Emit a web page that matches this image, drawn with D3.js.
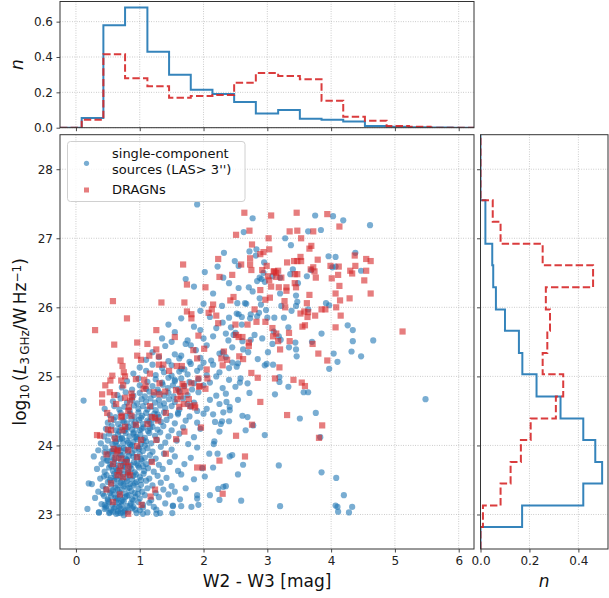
<!DOCTYPE html>
<html>
<head>
<meta charset="utf-8">
<script src="https://cdn.jsdelivr.net/npm/d3@7"></script>
<style>
  body { margin: 0; background: #fff; }
  svg { display: block; font-family: "DejaVu Sans", sans-serif; }
</style>
</head>
<body>
<div id="chart"></div>
<script>
"use strict";

// ticks
var colourTicks = [0, 1, 2, 3, 4, 5, 6];
var lumTicks = [23, 24, 25, 26, 27, 28];
var topHistTicks = [0, 0.2, 0.4, 0.6];
var sideHistTicks = [0, 0.2, 0.4];

// histogram bin edges (W2-W3 and log L)
var colourEdges = [-0.25, 0.09, 0.43, 0.77, 1.12, 1.46, 1.80, 2.14, 2.48, 2.82, 3.17, 3.51, 3.85, 4.19, 4.53, 4.87, 5.22, 5.56, 5.90, 6.24];
var lumEdges = [22.5, 22.82, 23.13, 23.45, 23.76, 24.08, 24.39, 24.71, 25.03, 25.34, 25.66, 25.97, 26.29, 26.61, 26.92, 27.24, 27.55, 27.87, 28.18, 28.5];

// normalised counts per bin
var topSingle = [0, 0.055, 0.58, 0.68, 0.43, 0.30, 0.215, 0.19, 0.145, 0.08, 0.10, 0.05, 0.045, 0.035, 0.01, 0.005, 0.002, 0.001, 0];
var topDragn = [0, 0.045, 0.415, 0.28, 0.235, 0.17, 0.18, 0.185, 0.255, 0.31, 0.293, 0.274, 0.153, 0.062, 0.04, 0.01, 0.005, 0, 0];
var sideSingle = [0, 0.17, 0.42, 0.497, 0.469, 0.42, 0.327, 0.229, 0.171, 0.157, 0.10, 0.063, 0.052, 0.048, 0.02, 0.02, 0, 0, 0];
var sideDragn = [0, 0.01, 0.082, 0.123, 0.165, 0.205, 0.308, 0.338, 0.254, 0.273, 0.284, 0.267, 0.46, 0.254, 0.082, 0.05, 0, 0, 0];

// [W2-W3, log10 L] -- single-component sources (LAS > 3")
var singleSources = [
  [1.90,27.49],[2.77,27.29],[3.75,27.33],[4.03,27.32],[4.19,27.26],[4.61,27.19],[3.84,27.12],[3.64,27.10],[2.63,27.09],
  [3.28,27.00],[3.37,26.90],[2.72,26.81],[2.83,26.84],[2.82,26.75],[2.32,26.79],[2.49,26.67],[2.22,26.59],[2.02,26.51],
  [2.31,26.43],[1.72,26.41],[1.85,26.30],[2.55,26.28],[2.71,26.29],[2.77,26.23],[2.84,26.38],[2.88,26.43],[2.91,26.41],
  [2.94,26.50],[2.96,26.37],[3.08,26.45],[3.20,26.43],[3.36,26.48],[3.48,26.35],[3.45,26.17],[3.62,26.45],[3.69,26.54],
  [3.96,26.74],[4.07,26.73],[4.07,26.59],[4.02,26.58],[4.38,26.79],[4.47,26.53],[2.88,26.13],[2.90,26.04],[2.65,26.06],
  [2.67,26.05],[2.53,26.06],[2.29,26.02],[2.52,25.91],[2.55,25.90],[2.60,25.86],[2.73,25.84],[2.74,25.90],[2.84,25.87],
  [2.98,25.96],[2.87,25.92],[3.11,25.85],[3.22,26.02],[3.38,25.95],[3.45,26.02],[3.47,26.08],[3.64,25.97],[3.92,26.06],
  [3.97,26.03],[4.26,25.74],[4.34,25.67],[4.34,25.51],[4.32,25.36],[4.47,25.29],[4.66,25.52],[4.04,25.33],[4.10,25.21],
  [3.97,25.11],[3.85,25.62],[3.70,25.50],[3.45,25.39],[3.46,25.29],[3.44,25.49],[3.34,25.42],[3.33,25.71],[3.26,25.85],
  [3.10,25.65],[3.18,25.58],[3.21,25.53],[3.08,25.47],[3.01,25.35],[2.96,25.16],[2.99,25.18],[3.09,25.17],[3.19,24.99],
  [3.19,24.92],[3.33,24.85],[3.57,24.77],[3.64,24.77],[3.12,24.74],[2.92,25.55],[2.74,25.53],[2.61,25.51],[2.50,25.63],
  [2.43,25.71],[2.39,25.52],[2.47,25.60],[2.62,25.39],[2.54,25.19],[2.52,25.14],[2.58,24.97],[2.57,24.91],[2.69,24.90],
  [2.72,24.76],[2.54,24.66],[2.36,24.63],[2.41,24.56],[2.31,24.48],[2.41,24.51],[2.61,24.43],[2.69,24.41],[2.66,24.22],
  [2.78,24.29],[2.96,24.15],[3.51,24.39],[3.76,24.47],[3.83,24.12],[3.85,23.61],[4.08,23.53],[4.20,23.28],[4.07,23.13],
  [4.10,23.11],[4.11,23.04],[4.33,23.11],[4.28,23.03],[3.18,23.71],[3.20,23.12],[2.59,23.20],[2.54,23.58],[2.62,23.72],
  [2.45,23.86],[2.41,23.84],[2.15,23.68],[2.09,23.88],[2.16,24.02],[2.22,23.88],[2.17,24.06],[2.25,24.20],[2.27,24.31],
  [2.29,24.35],[2.18,24.34],[2.02,23.55],[2.35,23.41],[2.31,23.40],[2.23,23.37],[2.25,23.21],[2.10,23.28],[1.90,23.28],
  [1.90,23.23],[1.92,23.14],[1.81,23.11],[1.65,23.12],[1.52,23.12],[1.51,23.02],[1.26,23.01],[0.12,24.65],[0.20,23.45],
  [0.18,23.08],[0.36,23.03],[0.45,23.14],[0.53,23.03],[0.66,23.02],[0.75,22.99],[1.05,23.01],[5.48,24.67],
  // dense region
  [0.36,23.03],[0.45,23.08],[0.52,23.02],[0.55,23.06],[0.60,23.09],[0.63,23.01],[0.66,23.05],[0.70,23.08],[0.74,23.03],
  [0.78,23.07],[0.82,23.04],[0.88,23.09],[0.95,23.02],[1.00,23.06],[1.05,23.10],[1.12,23.03],[1.26,23.07],[1.32,23.02],
  [0.40,23.15],[0.48,23.12],[0.52,23.18],[0.57,23.14],[0.62,23.11],[0.67,23.17],[0.71,23.13],[0.75,23.19],[0.80,23.12],
  [0.86,23.16],[0.90,23.11],[0.98,23.18],[1.05,23.14],[1.15,23.17],[1.22,23.11],[1.40,23.16],[1.52,23.13],
  [0.30,23.24],[0.44,23.27],[0.50,23.22],[0.55,23.26],[0.60,23.29],[0.65,23.23],[0.69,23.27],[0.73,23.21],[0.77,23.25],
  [0.83,23.28],[0.88,23.22],[0.93,23.26],[1.00,23.23],[1.08,23.28],[1.18,23.21],[1.30,23.25],[1.45,23.29],[1.63,23.22],
  [0.35,23.33],[0.47,23.37],[0.53,23.31],[0.58,23.35],[0.62,23.39],[0.68,23.32],[0.72,23.36],[0.78,23.30],[0.81,23.38],
  [0.87,23.34],[0.92,23.31],[0.98,23.37],[1.04,23.33],[1.12,23.38],[1.25,23.31],[1.37,23.36],[1.55,23.33],[1.72,23.38],
  [0.25,23.44],[0.42,23.41],[0.50,23.47],[0.56,23.43],[0.60,23.49],[0.66,23.42],[0.70,23.46],[0.75,23.41],[0.80,23.48],
  [0.85,23.44],[0.90,23.42],[0.95,23.47],[1.02,23.43],[1.10,23.49],[1.20,23.42],[1.33,23.46],[1.50,23.41],
  [0.38,23.52],[0.48,23.57],[0.55,23.53],[0.60,23.59],[0.64,23.51],[0.70,23.55],[0.74,23.58],[0.79,23.52],[0.84,23.56],
  [0.88,23.51],[0.94,23.58],[1.00,23.54],[1.06,23.59],[1.15,23.52],[1.28,23.56],[1.42,23.53],[1.65,23.58],[1.85,23.51],
  [0.33,23.66],[0.45,23.62],[0.52,23.68],[0.58,23.63],[0.63,23.67],[0.68,23.61],[0.73,23.65],[0.77,23.69],[0.82,23.62],
  [0.87,23.66],[0.92,23.61],[0.99,23.68],[1.07,23.63],[1.13,23.67],[1.22,23.62],[1.36,23.66],[1.60,23.63],[1.98,23.67],
  [0.40,23.73],[0.48,23.78],[0.54,23.72],[0.60,23.76],[0.66,23.71],[0.71,23.77],[0.76,23.74],[0.80,23.79],[0.86,23.72],
  [0.91,23.76],[0.97,23.71],[1.03,23.78],[1.10,23.73],[1.18,23.77],[1.30,23.72],[1.47,23.76],[1.70,23.73],
  [0.28,23.84],[0.43,23.81],[0.50,23.87],[0.56,23.83],[0.62,23.88],[0.67,23.82],[0.73,23.86],[0.78,23.81],[0.83,23.85],
  [0.88,23.89],[0.95,23.83],[1.00,23.87],[1.08,23.82],[1.16,23.86],[1.25,23.81],[1.38,23.88],[1.55,23.84],[1.80,23.82],
  [0.35,23.93],[0.46,23.97],[0.53,23.91],[0.60,23.95],[0.65,23.99],[0.70,23.92],[0.75,23.96],[0.81,23.91],[0.86,23.98],
  [0.92,23.93],[0.98,23.97],[1.05,23.92],[1.12,23.96],[1.20,23.91],[1.33,23.98],[1.50,23.94],[1.90,23.97],
  [0.39,24.03],[0.50,24.07],[0.57,24.02],[0.63,24.06],[0.69,24.09],[0.74,24.03],[0.80,24.07],[0.85,24.01],[0.90,24.05],
  [0.96,24.09],[1.02,24.02],[1.10,24.06],[1.18,24.03],[1.27,24.08],[1.40,24.04],[1.58,24.07],[1.76,24.02],
  [0.44,24.13],[0.52,24.17],[0.60,24.12],[0.66,24.16],[0.72,24.11],[0.78,24.18],[0.84,24.13],[0.90,24.17],[0.95,24.12],
  [1.01,24.16],[1.08,24.11],[1.15,24.18],[1.24,24.14],[1.32,24.19],[1.45,24.13],[1.62,24.17],[1.85,24.12],
  [0.47,24.24],[0.56,24.28],[0.63,24.22],[0.70,24.26],[0.76,24.21],[0.82,24.27],[0.88,24.23],[0.94,24.28],[1.00,24.22],
  [1.06,24.26],[1.13,24.21],[1.20,24.27],[1.28,24.23],[1.37,24.28],[1.50,24.22],[1.68,24.26],[1.95,24.24],
  [0.50,24.33],[0.59,24.37],[0.66,24.31],[0.73,24.36],[0.80,24.32],[0.87,24.38],[0.93,24.33],[0.99,24.37],[1.05,24.31],
  [1.12,24.36],[1.18,24.32],[1.25,24.38],[1.33,24.34],[1.42,24.37],[1.55,24.32],[1.72,24.36],[1.90,24.33],
  [0.53,24.44],[0.62,24.41],[0.70,24.47],[0.78,24.42],[0.85,24.46],[0.92,24.41],[0.98,24.48],[1.04,24.43],[1.10,24.47],
  [1.17,24.42],[1.23,24.46],[1.30,24.41],[1.38,24.48],[1.48,24.43],[1.60,24.47],[1.78,24.42],[2.00,24.46],
  [0.45,24.53],[0.60,24.57],[0.68,24.52],[0.76,24.56],[0.84,24.51],[0.91,24.58],[0.98,24.53],[1.05,24.57],[1.12,24.52],
  [1.18,24.56],[1.25,24.51],[1.32,24.58],[1.40,24.54],[1.50,24.57],[1.62,24.52],[1.80,24.56],[2.05,24.53],
  [0.58,24.64],[0.70,24.68],[0.80,24.62],[0.88,24.66],[0.96,24.61],[1.03,24.67],[1.10,24.63],[1.17,24.68],[1.24,24.62],
  [1.30,24.66],[1.38,24.61],[1.46,24.67],[1.55,24.63],[1.68,24.68],[1.85,24.62],[2.10,24.66],
  [0.65,24.73],[0.78,24.77],[0.90,24.72],[1.00,24.76],[1.08,24.71],[1.15,24.78],[1.22,24.73],[1.30,24.77],[1.38,24.72],
  [1.45,24.76],[1.53,24.71],[1.62,24.78],[1.75,24.73],[1.92,24.77],[2.20,24.72],
  [0.72,24.84],[0.88,24.81],[1.00,24.87],[1.10,24.82],[1.20,24.86],[1.28,24.81],[1.36,24.88],[1.44,24.83],[1.52,24.87],
  [1.60,24.82],[1.70,24.86],[1.82,24.81],[2.00,24.87],[2.30,24.83],
  [0.80,24.93],[0.98,24.97],[1.12,24.92],[1.25,24.96],[1.35,24.91],[1.45,24.98],[1.55,24.93],[1.65,24.97],[1.78,24.92],
  [1.92,24.96],[2.10,24.91],[2.40,24.95],
  [0.90,25.04],[1.10,25.08],[1.25,25.02],[1.38,25.06],[1.50,25.01],[1.62,25.07],[1.75,25.03],[1.90,25.08],[2.05,25.02],[2.25,25.06],
  [1.00,25.13],[1.20,25.17],[1.35,25.12],[1.50,25.16],[1.65,25.11],[1.80,25.18],[1.95,25.13],[2.15,25.17],[2.40,25.12],
  [1.10,25.24],[1.30,25.28],[1.45,25.22],[1.62,25.26],[1.78,25.21],[1.95,25.27],[2.12,25.23],[2.35,25.28],
  [1.20,25.35],[1.40,25.44],[1.55,25.32],[1.72,25.47],[1.88,25.38],[2.05,25.45],[2.25,25.33],[2.45,25.42],
  [1.35,25.55],[1.55,25.64],[1.75,25.52],[1.95,25.67],[2.15,25.58],[2.35,25.62],
  [1.45,25.75],[1.65,25.84],[1.85,25.72],[2.10,25.86],[2.30,25.78],
  // core, second layer
  [0.58,23.04],[0.68,23.11],[0.76,23.05],[0.85,23.13],[0.93,23.07],[0.50,23.20],[0.62,23.24],[0.71,23.19],[0.80,23.27],
  [0.90,23.20],[0.97,23.30],[0.55,23.34],[0.65,23.36],[0.75,23.44],[0.84,23.39],[0.93,23.45],[0.53,23.50],[0.62,23.55],
  [0.72,23.49],[0.81,23.60],[0.90,23.56],[1.02,23.50],[0.56,23.70],[0.65,23.64],[0.74,23.71],[0.84,23.69],[0.95,23.74],
  [1.05,23.70],[0.60,23.80],[0.70,23.86],[0.80,23.78],[0.90,23.84],[1.02,23.80],[0.57,23.92],[0.68,23.96],[0.78,23.94],
  [0.88,24.00],[0.99,23.95],[1.08,24.00],[0.62,24.04],[0.72,24.10],[0.82,24.04],[0.93,24.12],[1.05,24.08],[0.68,24.20],
  [0.79,24.24],[0.91,24.19],[1.03,24.24],[1.16,24.25],[0.75,24.34],[0.90,24.30],[1.02,24.40],[1.15,24.34],[1.28,24.45],
  [0.63,23.20],[0.70,23.02],[0.47,23.10],[0.42,23.30],[0.44,23.55],[0.50,23.78],[0.45,23.90],
  // middle band, second layer
  [1.55,24.95],[1.70,25.10],[1.85,24.90],[2.00,25.20],[2.20,25.00],[2.30,25.35],[2.45,25.20],[2.35,24.75],[2.50,24.85],
  [1.60,24.45],[1.75,24.60],[1.90,24.50],[2.15,24.45],[2.25,24.60],[2.40,24.35],[1.50,25.50],[1.65,25.30],[1.80,25.45],
  [2.00,25.55],[2.20,25.70],[2.40,25.85],[2.60,25.75],[2.00,26.05],[2.15,26.20],[2.40,26.35],[1.95,25.95],[2.70,25.35],
  [2.85,25.25],[2.80,25.60],[3.00,25.85],[3.20,26.20],[3.40,26.55],[2.55,26.60],[2.95,26.65]
];

// [W2-W3, log10 L] -- DRAGNs
var dragns = [
  [2.64,27.37],[3.06,27.33],[3.46,27.37],[3.94,27.35],[4.13,27.17],[2.51,27.05],[2.72,27.11],[3.35,27.10],[3.47,27.11],
  [3.72,27.10],[3.53,27.00],[3.02,27.00],[2.76,26.91],[3.69,26.89],[3.66,26.85],[3.03,26.84],[2.89,26.77],[2.94,26.80],
  [2.23,26.70],[1.68,26.62],[2.59,26.62],[2.73,26.62],[2.73,26.71],[2.75,26.54],[2.99,26.60],[2.92,26.54],[3.10,26.52],
  [3.14,26.50],[3.17,26.53],[3.22,26.43],[3.31,26.65],[3.42,26.67],[3.47,26.67],[3.53,26.67],[3.52,26.73],[3.68,26.55],
  [3.72,26.58],[3.74,26.52],[3.76,26.43],[3.79,26.69],[3.99,26.60],[4.12,26.59],[4.11,26.47],[4.30,26.53],[4.33,26.49],
  [4.37,26.75],[4.38,26.60],[4.55,26.70],[4.62,26.67],[4.55,26.53],[4.52,26.39],[4.62,26.20],[4.13,26.31],[4.07,26.20],
  [4.01,26.42],[4.14,26.10],[4.29,26.13],[4.08,26.00],[4.15,25.88],[4.07,25.71],[3.91,25.97],[3.85,25.97],[3.75,25.88],
  [3.64,25.93],[3.62,26.06],[3.66,26.18],[3.63,25.86],[3.58,25.94],[3.52,25.91],[3.59,25.74],[3.55,25.72],[3.45,26.29],
  [3.43,26.35],[3.47,26.48],[3.43,26.48],[3.30,26.29],[3.30,26.24],[3.18,26.29],[3.06,26.30],[3.04,26.14],[2.89,26.25],
  [2.97,26.11],[3.14,26.44],[3.11,26.52],[3.01,26.45],[3.03,26.39],[2.45,26.47],[2.25,26.44],[2.03,26.29],[1.74,26.33],
  [1.34,26.07],[0.58,26.09],[1.70,26.07],[2.47,26.15],[2.42,26.10],[2.15,26.04],[2.13,25.97],[2.08,25.92],[1.74,25.94],
  [1.81,25.90],[1.81,25.84],[2.20,25.88],[2.23,25.77],[2.50,25.75],[2.69,25.75],[2.80,25.97],[2.83,25.79],[2.97,25.79],
  [3.08,25.70],[3.09,25.58],[3.14,25.62],[3.17,25.51],[3.20,25.39],[3.34,25.63],[3.35,25.51],[3.28,26.00],[3.27,26.09],
  [2.61,25.57],[2.55,25.57],[2.51,25.60],[2.71,25.49],[2.71,25.44],[2.32,25.36],[2.28,25.26],[2.37,25.24],[2.30,25.16],
  [2.56,25.29],[2.62,25.25],[2.75,25.05],[2.85,24.98],[3.12,24.97],[3.19,25.13],[3.41,24.95],[3.54,24.91],[3.59,24.86],
  [3.71,25.47],[3.80,25.33],[3.94,25.23],[2.89,24.63],[3.31,24.44],[3.86,24.29],[3.81,24.11],[2.76,24.30],[2.65,23.84],
  [2.51,24.14],[2.25,23.78],[2.30,23.30],[1.99,23.68],[1.90,23.68],[5.12,25.65],
  [0.80,25.84],[0.30,25.67],[0.60,25.46],[0.96,25.49],[1.12,25.47],[1.26,25.67],[1.26,25.39],[1.30,25.29],[1.15,25.30],
  [1.02,25.24],[0.96,25.30],[0.70,25.23],[0.73,25.15],[0.75,25.06],[0.77,25.00],[0.94,24.96],[1.07,24.95],[1.16,25.04],
  [1.30,25.17],[1.37,25.17],[1.46,25.08],[1.55,25.57],[1.58,25.15],[1.66,25.15],[1.67,24.89],[1.69,24.86],[1.81,24.90],
  [1.92,24.97],[1.92,25.59],[1.84,25.38],[1.90,25.26],[2.01,25.40],[2.05,25.10],[2.06,24.97],[1.94,24.86],[2.03,24.82],
  [0.46,24.87],[0.57,25.01],[0.54,24.94],[0.71,24.94],[0.74,24.87],[0.41,24.74],[0.41,24.62],[0.53,24.77],[0.60,24.73],
  [0.87,24.75],[0.88,24.70],[0.85,24.65],[0.77,24.69],[0.63,24.60],[0.49,24.47],[0.72,24.43],[0.82,24.50],[0.83,24.56],
  [1.06,24.82],[1.09,24.86],[1.22,24.77],[1.31,24.90],[1.31,24.74],[1.40,24.78],[1.41,24.47],[1.57,24.80],[1.63,24.78],
  [1.64,24.71],[1.72,24.78],[1.59,24.67],[1.62,24.56],[1.69,24.60],[1.77,24.67],[1.79,24.57],[1.86,24.58],[1.93,24.85],
  [1.87,24.55],[0.55,24.38],[0.71,24.41],[0.87,24.43],[1.16,24.57],[1.19,24.41],[1.24,24.40],[1.29,24.36],[1.12,24.31],
  [0.94,24.30],[0.55,24.22],[0.50,24.23],[0.33,24.15],[0.38,24.14],[0.61,24.10],[0.73,24.22],[0.77,24.27],[0.59,23.95],
  [0.66,23.93],[0.64,23.91],[0.82,23.93],[0.96,23.99],[1.02,24.08],[1.26,24.08],[1.57,24.09],[1.70,24.20],[1.96,24.26],
  [1.41,23.88],[0.48,23.87],[0.58,23.73],[0.62,23.82],[0.70,23.70],[0.71,23.81],[0.79,23.76],[0.82,23.70],[0.68,23.63],
  [0.74,23.54],[0.82,23.61],[0.85,23.57],[0.65,23.57],[0.96,23.83],[1.19,23.76],[0.55,23.45],[0.48,23.36],[0.69,23.29],
  [0.58,23.18],[1.03,23.14],[1.17,23.26],[1.24,23.36],[0.82,23.01]
];

// == layout ==
var W = 609, H = 598;
var main = { left: 60, right: 474, top: 134.7, bottom: 549 };
var topBox = { left: 60, right: 474, top: 1.5, bottom: 127.7 };
var sideBox = { left: 480.5, right: 608, top: 134.7, bottom: 549 };

var blue = "#1f77b4", red = "#d62728";
var gridColor = "#b0b0b0", axisColor = "#333";

var svg = d3.select("#chart").append("svg")
  .attr("width", W).attr("height", H);

var x = d3.scaleLinear().domain([-0.25, 6.24]).range([main.left, main.right]);
var y = d3.scaleLinear().domain([22.5, 28.5]).range([main.bottom, main.top]);
var yTop = d3.scaleLinear().domain([0, 0.714]).range([topBox.bottom, topBox.top]);
var xSide = d3.scaleLinear().domain([0, 0.521]).range([sideBox.left, sideBox.right]);

function clip(id, b) {
  svg.append("clipPath").attr("id", id).append("rect")
    .attr("x", b.left).attr("y", b.top)
    .attr("width", b.right - b.left).attr("height", b.bottom - b.top);
}
clip("clipMain", main); clip("clipTop", topBox); clip("clipSide", sideBox);

function gridV(g, scale, vals, b) {
  g.selectAll(null).data(vals).enter().append("line")
    .attr("x1", d => scale(d)).attr("x2", d => scale(d))
    .attr("y1", b.top).attr("y2", b.bottom)
    .attr("stroke", gridColor).attr("stroke-width", 0.8).attr("stroke-dasharray", "0.8,1.6");
}
function gridH(g, scale, vals, b) {
  g.selectAll(null).data(vals).enter().append("line")
    .attr("y1", d => scale(d)).attr("y2", d => scale(d))
    .attr("x1", b.left).attr("x2", b.right)
    .attr("stroke", gridColor).attr("stroke-width", 0.8).attr("stroke-dasharray", "0.8,1.6");
}
function frame(b) {
  svg.append("rect").attr("x", b.left).attr("y", b.top)
    .attr("width", b.right - b.left).attr("height", b.bottom - b.top)
    .attr("fill", "none").attr("stroke", axisColor).attr("stroke-width", 1);
}
function styleAxis(g) {
  g.select(".domain").remove();
  g.selectAll(".tick line").attr("stroke", axisColor).attr("stroke-width", 0.9);
  g.selectAll(".tick text").attr("fill", "#222").style("font-size", "12px")
    .style("font-family", "DejaVu Sans, sans-serif");
}

// ---- main scatter ----
var gMain = svg.append("g");
gridV(gMain, x, colourTicks, main);
gridH(gMain, y, lumTicks, main);

var pts = svg.append("g").attr("clip-path", "url(#clipMain)");
pts.selectAll("circle").data(singleSources).enter().append("circle")
  .attr("cx", d => x(d[0])).attr("cy", d => y(d[1])).attr("r", 3.1)
  .attr("fill", blue).attr("fill-opacity", 0.6);
pts.selectAll("rect").data(dragns).enter().append("rect")
  .attr("x", d => x(d[0]) - 3.1).attr("y", d => y(d[1]) - 3.1)
  .attr("width", 6.2).attr("height", 6.2)
  .attr("fill", red).attr("fill-opacity", 0.6);

frame(main);
svg.append("g").attr("transform", "translate(0," + main.bottom + ")")
  .call(d3.axisBottom(x).tickValues(colourTicks).tickFormat(d3.format("d")).tickSize(3.5).tickPadding(3.5))
  .call(styleAxis);
svg.append("g").attr("transform", "translate(" + main.left + ",0)")
  .call(d3.axisLeft(y).tickValues(lumTicks).tickFormat(d3.format("d")).tickSize(3.5).tickPadding(3.5))
  .call(styleAxis);

// ---- top histogram ----
var gTop = svg.append("g");
gridV(gTop, x, colourTicks, topBox);
gridH(gTop, yTop, topHistTicks, topBox);

function stepTop(vals) {
  var p = [[colourEdges[0], 0]];
  vals.forEach(function (v, i) {
    p.push([colourEdges[i], v]);
    p.push([colourEdges[i + 1], v]);
  });
  p.push([colourEdges[colourEdges.length - 1], 0]);
  return d3.line().x(d => x(d[0])).y(d => yTop(d[1]))(p);
}
var topLines = svg.append("g").attr("clip-path", "url(#clipTop)");
topLines.append("path").attr("d", stepTop(topSingle))
  .attr("fill", "none").attr("stroke", blue).attr("stroke-width", 2).attr("stroke-opacity", 0.9);
topLines.append("path").attr("d", stepTop(topDragn))
  .attr("fill", "none").attr("stroke", red).attr("stroke-width", 2).attr("stroke-opacity", 0.9)
  .attr("stroke-dasharray", "7.4,3.2");
frame(topBox);
svg.append("g").attr("transform", "translate(0," + topBox.bottom + ")")
  .call(d3.axisBottom(x).tickValues(colourTicks).tickFormat("").tickSize(3.5))
  .call(styleAxis);
svg.append("g").attr("transform", "translate(" + topBox.left + ",0)")
  .call(d3.axisLeft(yTop).tickValues(topHistTicks).tickFormat(d3.format(".1f")).tickSize(3.5).tickPadding(3.5))
  .call(styleAxis);

// ---- side histogram ----
var gSide = svg.append("g");
gridV(gSide, xSide, sideHistTicks, sideBox);
gridH(gSide, y, lumTicks, sideBox);

function stepSide(vals) {
  var p = [[0, lumEdges[0]]];
  vals.forEach(function (v, i) {
    p.push([v, lumEdges[i]]);
    p.push([v, lumEdges[i + 1]]);
  });
  p.push([0, lumEdges[lumEdges.length - 1]]);
  return d3.line().x(d => xSide(d[0])).y(d => y(d[1]))(p);
}
var sideLines = svg.append("g").attr("clip-path", "url(#clipSide)");
sideLines.append("path").attr("d", stepSide(sideSingle))
  .attr("fill", "none").attr("stroke", blue).attr("stroke-width", 2).attr("stroke-opacity", 0.9);
sideLines.append("path").attr("d", stepSide(sideDragn))
  .attr("fill", "none").attr("stroke", red).attr("stroke-width", 2).attr("stroke-opacity", 0.9)
  .attr("stroke-dasharray", "7.4,3.2");
frame(sideBox);
svg.append("g").attr("transform", "translate(0," + sideBox.bottom + ")")
  .call(d3.axisBottom(xSide).tickValues(sideHistTicks).tickFormat(d3.format(".1f")).tickSize(3.5).tickPadding(3.5))
  .call(styleAxis);
svg.append("g").attr("transform", "translate(" + sideBox.left + ",0)")
  .call(d3.axisLeft(y).tickValues(lumTicks).tickFormat("").tickSize(3.5))
  .call(styleAxis);

// ---- labels ----
svg.append("text").attr("x", (main.left + main.right) / 2).attr("y", 587)
  .attr("text-anchor", "middle").style("font-size", "17px").attr("fill", "#111")
  .text("W2 - W3 [mag]");

var yl = svg.append("text")
  .attr("transform", "translate(26," + ((main.top + main.bottom) / 2) + ") rotate(-90)")
  .attr("text-anchor", "middle").style("font-size", "17px").attr("fill", "#111");
yl.append("tspan").text("log");
yl.append("tspan").attr("baseline-shift", "-25%").style("font-size", "12px").text("10");
yl.append("tspan").text("\u2009(");
yl.append("tspan").style("font-style", "italic").text("L");
yl.append("tspan").attr("baseline-shift", "-25%").style("font-size", "12px").text("3\u2009GHz");
yl.append("tspan").text("/W\u2009Hz");
yl.append("tspan").attr("baseline-shift", "45%").style("font-size", "12px").text("\u22121");
yl.append("tspan").text(")");

svg.append("text")
  .attr("transform", "translate(23," + ((topBox.top + topBox.bottom) / 2) + ") rotate(-90)")
  .attr("text-anchor", "middle").style("font-size", "17px").style("font-style", "italic")
  .attr("fill", "#111").text("n");
svg.append("text").attr("x", (sideBox.left + sideBox.right) / 2).attr("y", 587)
  .attr("text-anchor", "middle").style("font-size", "17px").style("font-style", "italic")
  .attr("fill", "#111").text("n");

// ---- legend ----
var leg = svg.append("g");
leg.append("rect").attr("x", 67.5).attr("y", 141.5).attr("width", 177.5).attr("height", 60)
  .attr("rx", 3).attr("fill", "#fff").attr("fill-opacity", 0.8)
  .attr("stroke", "#d0d0d0").attr("stroke-width", 1);
leg.append("circle").attr("cx", 86.5).attr("cy", 163.3).attr("r", 2.6)
  .attr("fill", blue).attr("fill-opacity", 0.6);
leg.append("rect").attr("x", 84).attr("y", 187.5).attr("width", 5).attr("height", 5)
  .attr("fill", red).attr("fill-opacity", 0.6);
var legText = [["single-component", 157.8], ["sources (LAS> 3'')", 174], ["DRAGNs", 194]];
leg.selectAll("text").data(legText).enter().append("text")
  .attr("x", 112).attr("y", d => d[1])
  .style("font-size", "13px").attr("fill", "#111").text(d => d[0]);
</script>
</body>
</html>
